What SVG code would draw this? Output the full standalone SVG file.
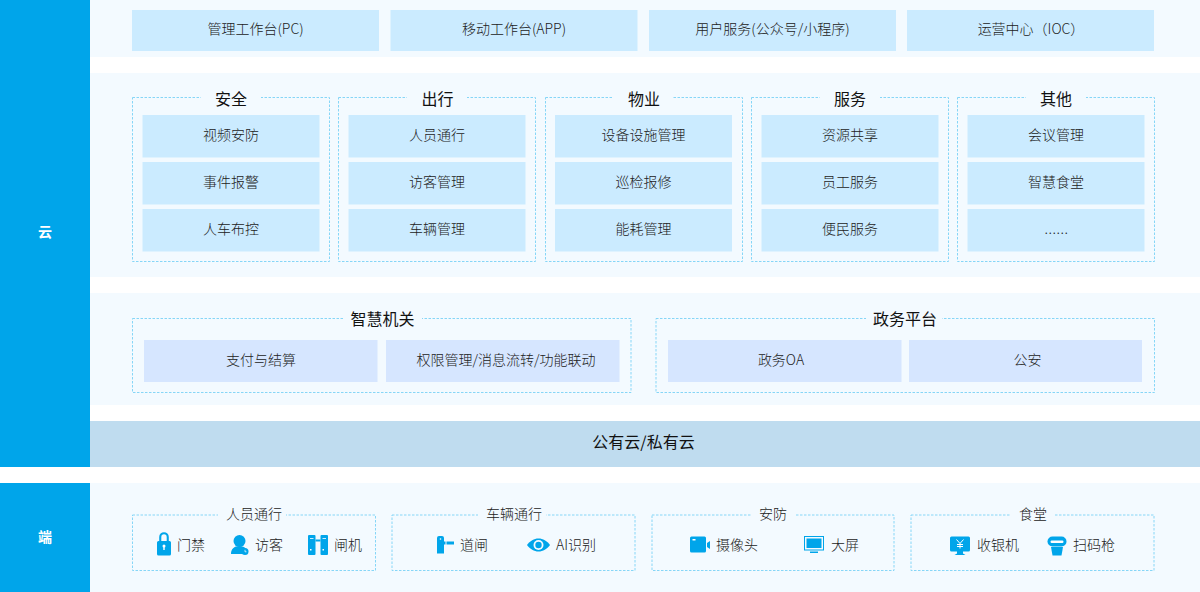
<svg xmlns="http://www.w3.org/2000/svg" width="1200" height="592" viewBox="0 0 1200 592">
<style>
text{font-family:"Noto Sans CJK SC","Noto Sans",sans-serif;text-anchor:middle;fill:#222;font-weight:300}
.t{font-size:14px}
.h{font-size:16px;font-weight:400;fill:#111}
.s{font-size:14px}
.l{font-size:14px;text-anchor:start}
.side{fill:#00a5ea}
.sl{font-size:14px;font-weight:700;fill:#fff}
.band{fill:#f3faff}
.b1{fill:#cbebff}
.b2{fill:#d6e6ff}
.g{fill:none;stroke:#86d6f7;stroke-width:1;stroke-dasharray:2.500 1.500}
.m{fill:#f3faff}
.i{fill:#00a5ea}
</style>
<rect width="1200" height="592" fill="#fff"/>
<g id="side-cloud"><rect class="side" width="90" height="467"/><text class="sl" x="45" y="237">云</text></g>
<g id="side-end"><rect class="side" y="483" width="90" height="109"/><text class="sl" x="45" y="542">端</text></g>
<g id="bands">
<rect class="band" x="90" width="1110" height="57"/>
<rect class="band" x="90" y="73" width="1110" height="204"/>
<rect class="band" x="90" y="293" width="1110" height="112"/>
<rect class="band" x="90" y="483" width="1110" height="109"/>
</g>
<g id="top-pc"><rect class="b1" x="132" y="10" width="247" height="41"/><text class="t" x="255.500" y="34">管理工作台(PC)</text></g>
<g id="top-app"><rect class="b1" x="390.500" y="10" width="247" height="41"/><text class="t" x="514" y="34">移动工作台(APP)</text></g>
<g id="top-user"><rect class="b1" x="649" y="10" width="247" height="41"/><text class="t" x="772.500" y="34">用户服务(公众号/小程序)</text></g>
<g id="top-ioc"><rect class="b1" x="907" y="10" width="247" height="41"/><text class="t" x="1031" y="34">运营中心（IOC）</text></g>

<g id="g-safe"><rect class="g" x="132.500" y="97.500" width="197" height="164"/><rect class="m" x="201" y="90" width="60" height="16"/><text class="h" x="231" y="104.500">安全</text>
<rect class="b1" x="142.500" y="115" width="177" height="42.500"/><text class="t" x="231" y="140">视频安防</text>
<rect class="b1" x="142.500" y="162" width="177" height="42.500"/><text class="t" x="231" y="187">事件报警</text>
<rect class="b1" x="142.500" y="209" width="177" height="42.500"/><text class="t" x="231" y="234">人车布控</text></g>
<g id="g-go"><rect class="g" x="338.500" y="97.500" width="197" height="164"/><rect class="m" x="407" y="90" width="60" height="16"/><text class="h" x="437.500" y="104.500">出行</text>
<rect class="b1" x="348.500" y="115" width="177" height="42.500"/><text class="t" x="437" y="140">人员通行</text>
<rect class="b1" x="348.500" y="162" width="177" height="42.500"/><text class="t" x="437" y="187">访客管理</text>
<rect class="b1" x="348.500" y="209" width="177" height="42.500"/><text class="t" x="437" y="234">车辆管理</text></g>
<g id="g-prop"><rect class="g" x="545.500" y="97.500" width="197" height="164"/><rect class="m" x="613" y="90" width="60" height="16"/><text class="h" x="644" y="104.500">物业</text>
<rect class="b1" x="555" y="115" width="177" height="42.500"/><text class="t" x="643.500" y="140">设备设施管理</text>
<rect class="b1" x="555" y="162" width="177" height="42.500"/><text class="t" x="643.500" y="187">巡检报修</text>
<rect class="b1" x="555" y="209" width="177" height="42.500"/><text class="t" x="643.500" y="234">能耗管理</text></g>
<g id="g-serv"><rect class="g" x="751.500" y="97.500" width="197" height="164"/><rect class="m" x="820" y="90" width="60" height="16"/><text class="h" x="850" y="104.500">服务</text>
<rect class="b1" x="761.500" y="115" width="177" height="42.500"/><text class="t" x="850" y="140">资源共享</text>
<rect class="b1" x="761.500" y="162" width="177" height="42.500"/><text class="t" x="850" y="187">员工服务</text>
<rect class="b1" x="761.500" y="209" width="177" height="42.500"/><text class="t" x="850" y="234">便民服务</text></g>
<g id="g-other"><rect class="g" x="957.500" y="97.500" width="197" height="164"/><rect class="m" x="1026" y="90" width="60" height="16"/><text class="h" x="1056" y="104.500">其他</text>
<rect class="b1" x="967.500" y="115" width="177" height="42.500"/><text class="t" x="1056" y="140">会议管理</text>
<rect class="b1" x="967.500" y="162" width="177" height="42.500"/><text class="t" x="1056" y="187">智慧食堂</text>
<rect class="b1" x="967.500" y="209" width="177" height="42.500"/><text class="t" x="1056.500" y="234" letter-spacing=".5">......</text></g>

<g id="g-gov"><rect class="g" x="132.500" y="318.500" width="498.500" height="74"/><rect class="m" x="344" y="310" width="78" height="16"/><text class="h" x="382.500" y="324.500">智慧机关</text>
<rect class="b2" x="144" y="340" width="233.500" height="42"/><text class="t" x="261" y="365">支付与结算</text>
<rect class="b2" x="386" y="340" width="233.500" height="42"/><text class="t" x="506" y="365">权限管理/消息流转/功能联动</text></g>
<g id="g-plat"><rect class="g" x="656" y="318.500" width="498.500" height="74"/><rect class="m" x="866" y="310" width="76" height="16"/><text class="h" x="905" y="324.500">政务平台</text>
<rect class="b2" x="668" y="340" width="233.500" height="42"/><text class="t" x="781" y="365">政务OA</text>
<rect class="b2" x="909" y="340" width="233" height="42"/><text class="t" x="1027.500" y="365">公安</text></g>

<g id="cloud"><rect x="90" y="421" width="1110" height="46" fill="#bfdcef"/><text class="h" x="643.500" y="447.500">公有云/私有云</text></g>

<g id="e-people"><rect class="g" x="132.500" y="515" width="243" height="55.500"/><rect class="m" x="218" y="507" width="68" height="16"/><text class="s" x="254" y="519">人员通行</text>
<path class="i" d="M157 542.500a1.500 1.500 0 0 1 1.500-1.500h.7v-4a4.800 4.800 0 0 1 9.600 0v4h.7a1.500 1.500 0 0 1 1.500 1.500v11.500a1.500 1.500 0 0 1-1.500 1.500h-11a1.500 1.500 0 0 1-1.500-1.500zM161.300 541h5.400v-4a2.700 2.700 0 0 0-5.400 0z" fill-rule="evenodd"/><circle cx="164" cy="546" r="1.500" fill="#fff"/><rect x="163.300" y="546" width="1.400" height="4" fill="#fff"/>
<text class="l" x="177" y="550">门禁</text>
<circle class="i" cx="239.500" cy="541" r="6"/><path class="i" d="M231 554c0-5 3-8 8.500-8 3 0 5 1 6.300 2.500a5 5 0 0 0-2.300 5.500z"/><circle class="i" cx="245" cy="551.500" r="3.500"/><path d="M245 549.800v2h1.500" fill="none" stroke="#fff" stroke-width=".7"/>
<text class="l" x="255" y="550">访客</text>
<rect class="i" x="308" y="535" width="7.500" height="20" rx="1"/><rect class="i" x="315.500" y="539.500" width="5" height="2"/><rect class="i" x="320.500" y="535" width="7.500" height="20" rx="1"/><rect x="310" y="538" width="3.500" height="1" fill="#cbebff"/><rect x="322.500" y="538" width="3.500" height="1" fill="#cbebff"/><rect x="310" y="549" width="1.500" height="1.500" fill="#fff"/><rect x="322.500" y="549" width="1.500" height="1.500" fill="#fff"/>
<text class="l" x="334" y="550">闸机</text></g>

<g id="e-car"><rect class="g" x="392" y="515" width="243" height="55.500"/><rect class="m" x="478" y="507" width="68" height="16"/><text class="s" x="514" y="519">车辆通行</text>
<path class="i" d="M437 538a2 2 0 0 1 2-2h3a2 2 0 0 1 2 2v3.500h1.500v3h-1.500v9h-7zM446.500 541.500h7.500v3h-7.500z"/><circle cx="440.500" cy="539" r=".8" fill="#fff"/>
<text class="l" x="460" y="550">道闸</text>
<path class="i" d="M527 545c3-4 7-6.500 11.500-6.500s8.500 2.500 11.500 6.500c-3 4-7 6.500-11.500 6.500s-8.500-2.500-11.500-6.500z"/><circle cx="538.500" cy="545" r="5" fill="#f3faff"/><circle class="i" cx="538.500" cy="545" r="3.200"/>
<text class="l" x="556" y="550">AI识别</text></g>

<g id="e-sec"><rect class="g" x="652" y="515" width="242" height="55.500"/><rect class="m" x="751" y="507" width="44" height="16"/><text class="s" x="773" y="519">安防</text>
<path class="i" d="M690 538a1.500 1.500 0 0 1 1.500-1.500h13a1.500 1.500 0 0 1 1.500 1.500v13a1.500 1.500 0 0 1-1.500 1.500h-13a1.500 1.500 0 0 1-1.500-1.500zM707 543l3-2v8l-3-2z"/><rect x="692.500" y="539" width="3" height="1.500" fill="#fff"/>
<text class="l" x="716" y="550">摄像头</text>
<rect x="804.500" y="536.500" width="19" height="13.500" fill="#f3faff" stroke="#00a5ea"/><rect x="806.500" y="538.500" width="15" height="9.500" class="i"/><rect x="810" y="551.500" width="8" height="1.500" class="i"/>
<text class="l" x="831" y="550">大屏</text></g>

<g id="e-food"><rect class="g" x="911" y="515" width="243" height="55.500"/><rect class="m" x="1011" y="507" width="44" height="16"/><text class="s" x="1033" y="519">食堂</text>
<path class="i" d="M950 538a1.500 1.500 0 0 1 1.500-1.500h17a1.500 1.500 0 0 1 1.500 1.500v12a1.500 1.500 0 0 1-1.500 1.500h-5.500v2l2.500 1.500h-11l2.500-1.500v-2h-5.500a1.500 1.500 0 0 1-1.500-1.500z"/><path d="M956.500 539.500l3.500 4 3.500-4M960 543.500v5M957 544.500h6M957 546.500h6" fill="none" stroke="#fff" stroke-width="1"/>
<text class="l" x="977" y="550">收银机</text>
<rect class="i" x="1047.500" y="536.500" width="19" height="10" rx="5"/><rect x="1050.500" y="540.500" width="13" height="2.500" rx="1.200" fill="#fff"/><path class="i" d="M1051 547h12l-1.500 8.500h-9z"/>
<text class="l" x="1073" y="550">扫码枪</text></g>
</svg>
